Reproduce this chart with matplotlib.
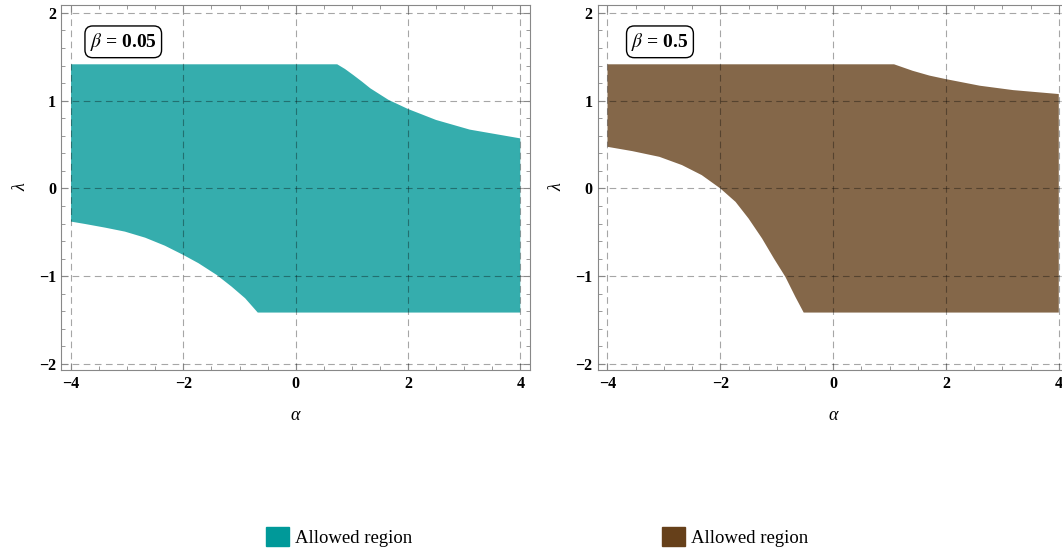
import matplotlib.pyplot as plt
from matplotlib.patches import Patch
from matplotlib.ticker import MultipleLocator

plt.rcParams['mathtext.fontset'] = 'stix'

# region boundaries
lam_min, lam_max = -1.414, 1.414
alpha_min, alpha_max = -4.0, 4.0

lo_a_005 = [-4.0, -3.75, -3.39, -3.04, -2.68, -2.33, -2.0, -1.73, -1.405, -1.14, -0.90, -0.675]
lo_l_005 = [-0.378, -0.405, -0.447, -0.492, -0.561, -0.652, -0.758, -0.852, -0.986, -1.119, -1.251, -1.414]
up_a_005 = [0.74, 0.88, 1.03, 1.18, 1.33, 1.65, 2.0, 2.5, 3.1, 4.0]
up_l_005 = [1.414, 1.36, 1.29, 1.217, 1.14, 1.01, 0.905, 0.78, 0.67, 0.57]

lo_a_05 = [-4.0, -3.56, -3.08, -2.68, -2.33, -2.0, -1.73, -1.50, -1.26, -1.05, -0.846, -0.669, -0.522]
lo_l_05 = [0.474, 0.425, 0.36, 0.266, 0.152, 0.0, -0.153, -0.342, -0.57, -0.798, -1.008, -1.236, -1.414]
up_a_05 = [1.08, 1.41, 1.71, 2.0, 2.6, 3.19, 4.0]
up_l_05 = [1.414, 1.34, 1.285, 1.245, 1.17, 1.12, 1.075]

panels = [
    ("0.05", lo_a_005, lo_l_005, up_a_005, up_l_005, '#35adad', '#009999'),
    ("0.5", lo_a_05, lo_l_05, up_a_05, up_l_05, '#846749', '#66401a'),
]

serif = 'Liberation Serif'
fig = plt.figure(figsize=(10.62, 5.5), dpi=100)
positions = [[0.0579, 0.327, 0.441, 0.664], [0.563, 0.327, 0.443, 0.664]]
legend_x = [266 / 1062, 662 / 1062]

for pos, lx, (beta, lo_a, lo_l, up_a, up_l, fill_c, leg_c) in zip(positions, legend_x, panels):
    ax = fig.add_axes(pos)
    xs = lo_a + [alpha_max] + up_a[::-1] + [alpha_min]
    ys = lo_l + [lam_min] + up_l[::-1] + [lam_max]
    ax.fill(xs, ys, color=fill_c, lw=0)

    ax.set_xlim(-4.17, 4.17)
    ax.set_ylim(-2.07, 2.09)
    ax.xaxis.set_major_locator(MultipleLocator(2))
    ax.xaxis.set_minor_locator(MultipleLocator(0.5))
    ax.yaxis.set_major_locator(MultipleLocator(1))
    ax.yaxis.set_minor_locator(MultipleLocator(0.2))
    ax.grid(True, which='major', color='k', alpha=0.35, lw=0.8, ls=(0, (6, 4)))
    ax.set_axisbelow(False)

    for s in ax.spines.values():
        s.set_color('#888888')
    ax.tick_params(which='both', direction='in', top=True, right=True, colors='#888888',
                   labelcolor='black', pad=4)
    ax.tick_params(which='major', length=5)
    ax.tick_params(which='minor', length=3)
    for lab in ax.get_xticklabels() + ax.get_yticklabels():
        lab.set_fontfamily(serif)
        lab.set_fontweight('bold')
        lab.set_fontsize(11.5)

    ax.set_xlabel('α', family=serif, style='italic', fontsize=13, labelpad=11)
    ax.set_ylabel('λ', family=serif, style='italic', fontsize=13, labelpad=7)

    ax.text(-3.07, 1.67, r'$\beta$ = ' + beta, family=serif, fontweight='bold', fontsize=14,
            ha='center', va='center',
            bbox=dict(boxstyle='round,pad=0.25,rounding_size=0.4', fc='white', ec='black', lw=1))

    fig.legend(handles=[Patch(color=leg_c, label='Allowed region')], loc='center left',
               bbox_to_anchor=(lx, 0.024), frameon=False, borderpad=0, borderaxespad=0,
               handlelength=1.2, handleheight=1.2, handletextpad=0.35,
               prop={'family': serif, 'size': 13.5})

fig.savefig('out.png', dpi=100)
